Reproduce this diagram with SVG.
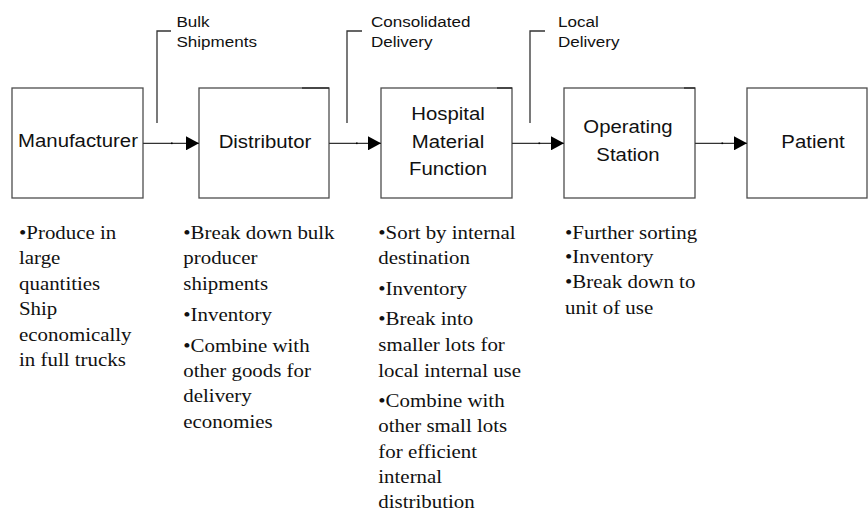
<svg xmlns="http://www.w3.org/2000/svg" width="868" height="515" viewBox="0 0 868 515">
  <style>
    .box { fill: #ffffff; stroke: #4d4d4d; stroke-width: 1.3; }
    .seam { stroke: #222; stroke-width: 1.3; }
    .label { font-family: "Liberation Sans", Arial, sans-serif; font-size: 18.5px; fill: #111; text-anchor: middle; }
    .callout-text { font-family: "Liberation Sans", Arial, sans-serif; font-size: 15.5px; fill: #111; }
    .note { font-family: "Liberation Serif", "Times New Roman", serif; font-size: 19px; fill: #111; }
    .flow { stroke: #333; stroke-width: 1.3; fill: none; }
    .tick { fill: #000; }
    .leader { stroke: #333; stroke-width: 1.3; fill: none; }
  </style>
  <defs>
    <marker id="arrowhead" markerWidth="13" markerHeight="14" refX="13" refY="7" orient="auto" markerUnits="userSpaceOnUse">
      <path d="M0,0 L13,7 L0,14 Z" fill="#000"/>
    </marker>
  </defs>

  <rect width="868" height="515" fill="#ffffff"/>

  <!-- process boxes -->
  <g id="manufacturer">
    <rect class="box" x="12" y="88" width="131" height="110"/>
    <g transform="translate(78,0) scale(1.1,1)"><text class="label" x="0" y="147.5">Manufacturer</text></g>
  </g>
  <g id="distributor">
    <rect class="box" x="199" y="88" width="130" height="110"/>
    <line class="seam" x1="302" y1="88" x2="329" y2="88"/>
    <g transform="translate(265,0) scale(1.1,1)"><text class="label" x="0" y="148">Distributor</text></g>
  </g>
  <g id="hospital-material-function">
    <rect class="box" x="381" y="88" width="131" height="110"/>
    <line class="seam" x1="497" y1="88" x2="512" y2="88"/>
    <g transform="translate(448,0) scale(1.1,1)">
      <text class="label" x="0" y="120.5">Hospital</text>
      <text class="label" x="0" y="148">Material</text>
      <text class="label" x="0" y="175">Function</text>
    </g>
  </g>
  <g id="operating-station">
    <rect class="box" x="564" y="88" width="131" height="110"/>
    <line class="seam" x1="684" y1="88" x2="695" y2="88"/>
    <g transform="translate(628,0) scale(1.1,1)">
      <text class="label" x="0" y="133.5">Operating</text>
      <text class="label" x="0" y="161.5">Station</text>
    </g>
  </g>
  <g id="patient">
    <rect class="box" x="747" y="88" width="120" height="110"/>
    <g transform="translate(813,0) scale(1.1,1)"><text class="label" x="0" y="148">Patient</text></g>
  </g>

  <!-- flow connectors -->
  <g id="connectors">
    <line class="flow" x1="143" y1="143.3" x2="199" y2="143.3" marker-end="url(#arrowhead)"/>
    <line class="flow" x1="329" y1="143.3" x2="381" y2="143.3" marker-end="url(#arrowhead)"/>
    <line class="flow" x1="512" y1="143.3" x2="564" y2="143.3" marker-end="url(#arrowhead)"/>
    <line class="flow" x1="695" y1="143.3" x2="747" y2="143.3" marker-end="url(#arrowhead)"/>
    <rect class="tick" x="171" y="142.5" width="1.6" height="1.6"/>
    <rect class="tick" x="356" y="142.5" width="1.6" height="1.6"/>
    <rect class="tick" x="538.5" y="142.5" width="1.6" height="1.6"/>
    <rect class="tick" x="721.5" y="142.5" width="1.6" height="1.6"/>
  </g>

  <!-- flow labels with leaders -->
  <g id="callout-bulk">
    <path class="leader" d="M157,123 V31 H171"/>
    <g transform="translate(176.5,0) scale(1.1,1)">
      <text class="callout-text" x="0" y="26.7">Bulk</text>
      <text class="callout-text" x="0" y="47.3">Shipments</text>
    </g>
  </g>
  <g id="callout-consolidated">
    <path class="leader" d="M347,123 V31 H362"/>
    <g transform="translate(371,0) scale(1.1,1)">
      <text class="callout-text" x="0" y="26.7">Consolidated</text>
      <text class="callout-text" x="0" y="47.3">Delivery</text>
    </g>
  </g>
  <g id="callout-local">
    <path class="leader" d="M530,123 V31 H545"/>
    <g transform="translate(558,0) scale(1.1,1)">
      <text class="callout-text" x="0" y="26.7">Local</text>
      <text class="callout-text" x="0" y="47.3">Delivery</text>
    </g>
  </g>

  <!-- activity notes under each stage -->
  <g id="notes-manufacturer" transform="translate(19,0) scale(1.1,1)">
    <text class="note" x="0" y="239.5">•Produce in</text>
    <text class="note" x="0" y="264.5">large</text>
    <text class="note" x="0" y="290">quantities</text>
    <text class="note" x="0" y="315.5">Ship</text>
    <text class="note" x="0" y="341">economically</text>
    <text class="note" x="0" y="366.5">in full trucks</text>
  </g>
  <g id="notes-distributor" transform="translate(183.3,0) scale(1.1,1)">
    <text class="note" x="0" y="239.5">•Break down bulk</text>
    <text class="note" x="0" y="264.5">producer</text>
    <text class="note" x="0" y="290">shipments</text>
    <text class="note" x="0" y="320.7">•Inventory</text>
    <text class="note" x="0" y="351.7">•Combine with</text>
    <text class="note" x="0" y="377.5">other goods for</text>
    <text class="note" x="0" y="402.5">delivery</text>
    <text class="note" x="0" y="428">economies</text>
  </g>
  <g id="notes-hospital" transform="translate(378.3,0) scale(1.1,1)">
    <text class="note" x="0" y="239.5">•Sort by internal</text>
    <text class="note" x="0" y="264.5">destination</text>
    <text class="note" x="0" y="295">•Inventory</text>
    <text class="note" x="0" y="325.5">•Break into</text>
    <text class="note" x="0" y="351.5">smaller lots for</text>
    <text class="note" x="0" y="376.7">local internal use</text>
    <text class="note" x="0" y="406.7">•Combine with</text>
    <text class="note" x="0" y="432.5">other small lots</text>
    <text class="note" x="0" y="458">for efficient</text>
    <text class="note" x="0" y="483.3">internal</text>
    <text class="note" x="0" y="508.3">distribution</text>
  </g>
  <g id="notes-operating" transform="translate(565,0) scale(1.1,1)">
    <text class="note" x="0" y="239.5">•Further sorting</text>
    <text class="note" x="0" y="263.5">•Inventory</text>
    <text class="note" x="0" y="288.5">•Break down to</text>
    <text class="note" x="0" y="314.5">unit of use</text>
  </g>
</svg>
